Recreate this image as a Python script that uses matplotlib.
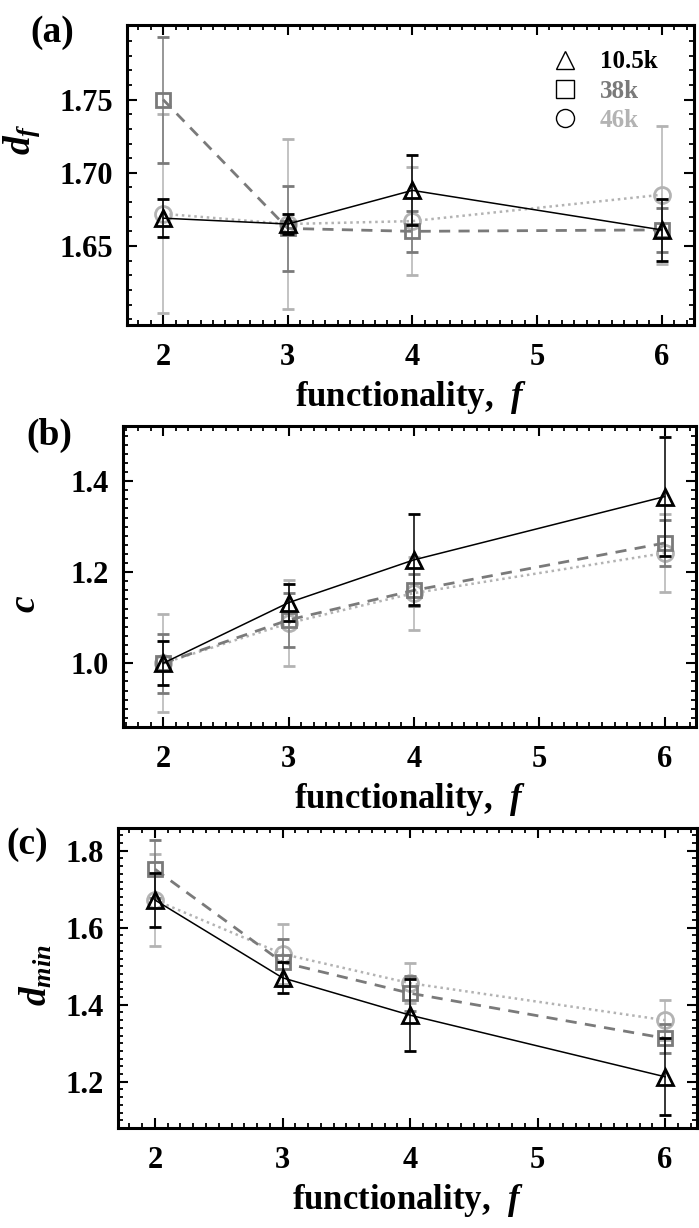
import numpy as np
import matplotlib
matplotlib.use('Agg')
import matplotlib.pyplot as plt
from matplotlib.lines import Line2D
from matplotlib.ticker import MultipleLocator, FormatStrFormatter

plt.rcParams['font.family'] = 'Liberation Serif'
plt.rcParams['font.weight'] = 'bold'
plt.rcParams['axes.labelweight'] = 'bold'
plt.rcParams['mathtext.fontset'] = 'custom'
plt.rcParams['mathtext.it'] = 'Liberation Serif:italic:bold'
plt.rcParams['mathtext.rm'] = 'Liberation Serif:bold'
plt.rcParams['mathtext.bf'] = 'Liberation Serif:bold'

# data
f = [2, 3, 4, 6]
labels = ['10.5k', '38k', '46k']

df_vals = [[1.669, 1.665, 1.688, 1.661],
           [1.750, 1.662, 1.660, 1.661],
           [1.672, 1.665, 1.667, 1.685]]
df_err = [[0.013, 0.007, 0.024, 0.021],
          [0.043, 0.029, 0.014, 0.015],
          [0.068, 0.058, 0.037, 0.047]]
df_ticks = [1.65, 1.70, 1.75]

c_vals = [[1.0, 1.133, 1.227, 1.366],
          [1.0, 1.095, 1.160, 1.264],
          [1.0, 1.088, 1.154, 1.242]]
c_err = [[0.048, 0.040, 0.100, 0.130],
         [0.065, 0.060, 0.035, 0.050],
         [0.108, 0.095, 0.080, 0.086]]
c_ticks = [1.0, 1.2, 1.4]

dmin_vals = [[1.672, 1.470, 1.373, 1.213],
             [1.752, 1.510, 1.430, 1.313],
             [1.672, 1.532, 1.456, 1.360]]
dmin_err = [[0.070, 0.040, 0.093, 0.100],
            [0.075, 0.060, 0.045, 0.037],
            [0.120, 0.078, 0.052, 0.052]]
dmin_ticks = [1.2, 1.4, 1.6, 1.8]

colors = ['black', '#7a7a7a', '#b3b3b3']
markers = ['^', 's', 'o']
msizes = [12, 10, 11.5]
styles = ['-', (0, (4, 3)), (0, (1, 1.5))]
widths = [1.1, 2.0, 1.8]

fig = plt.figure(figsize=(6.99, 12.28), dpi=100)

panels = [
    dict(rect=[127/699, 1-325/1228, 567/699, 300/1228], vals=df_vals, err=df_err,
         xlim=(1.71, 6.26), ylim=(1.596, 1.801), ticks=df_ticks, minor=0.01,
         fmt='%.2f', ylabel=r'$d_f$', ylc=(-0.15, 0.62), tag='(a)', tagpos=(30, 33)),
    dict(rect=[123/699, 1-727/1228, 573/699, 301/1228], vals=c_vals, err=c_err,
         xlim=(1.68, 6.25), ylim=(0.86, 1.521), ticks=c_ticks, minor=0.02,
         fmt='%.1f', ylabel=r'$c$', ylc=(-0.14, 0.41), tag='(b)', tagpos=(26, 435)),
    dict(rect=[118/699, 1-1128/1228, 579/699, 300/1228], vals=dmin_vals, err=dmin_err,
         xlim=(1.71, 6.25), ylim=(1.08, 1.859), ticks=dmin_ticks, minor=0.02,
         fmt='%.1f', ylabel=r'$d_{min}$', ylc=(-0.11, 0.51), tag='(c)', tagpos=(6, 844)),
]

for p in panels:
    ax = fig.add_axes(p['rect'])
    # lighter series first so black sits on top
    for i in [2, 1, 0]:
        ax.errorbar(f, p['vals'][i], yerr=p['err'][i], color=colors[i],
                    ecolor=colors[i], elinewidth=1.1, capsize=4, capthick=1.1,
                    linestyle=styles[i], linewidth=widths[i], marker=markers[i],
                    markersize=msizes[i], markerfacecolor='none',
                    markeredgewidth=2.0, zorder=3 - i * 0.5)
    ax.set_xlim(*p['xlim'])
    ax.set_ylim(*p['ylim'])
    ax.xaxis.set_major_locator(MultipleLocator(1))
    ax.xaxis.set_minor_locator(MultipleLocator(0.1))
    ax.set_yticks(p['ticks'])
    ax.yaxis.set_minor_locator(MultipleLocator(p['minor']))
    ax.yaxis.set_major_formatter(FormatStrFormatter(p['fmt']))
    ax.tick_params(which='both', direction='in', top=True, right=True, labelsize=22)
    ax.tick_params(which='major', length=7, width=1.5, pad=10)
    ax.tick_params(axis='x', which='major', pad=13)
    ax.tick_params(which='minor', length=3.5, width=1.3)
    for s in ax.spines.values():
        s.set_linewidth(2.2)
    ax.set_xlabel('functionality,  $f$', fontsize=25, labelpad=5)
    ax.set_ylabel(p['ylabel'], fontsize=27)
    ax.yaxis.set_label_coords(*p['ylc'])
    fig.text(p['tagpos'][0] / 699, 1 - p['tagpos'][1] / 1228, p['tag'],
             fontsize=27, fontweight='bold', va='center', ha='left')
    if p['tag'] == '(a)':
        handles = [Line2D([], [], color='black', marker=m, linestyle='none',
                          markersize=13, markerfacecolor='none', markeredgewidth=1.0)
                   for m in markers]
        ax.legend(handles, labels, loc='upper right', bbox_to_anchor=(0.975, 0.99),
                  frameon=False, fontsize=18, labelcolor=colors,
                  handletextpad=0.8, labelspacing=0.25, handlelength=1.2)

fig.savefig('out.png', dpi=100)
